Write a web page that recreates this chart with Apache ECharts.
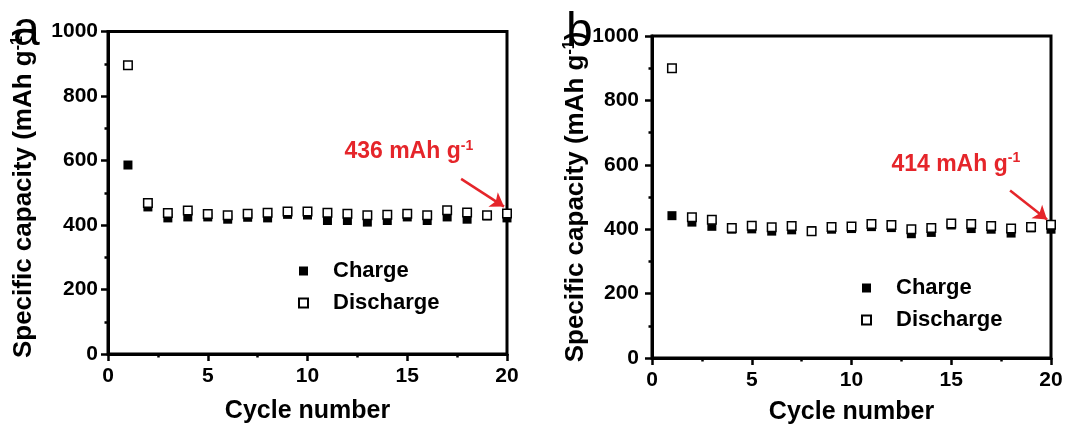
<!DOCTYPE html>
<html><head><meta charset="utf-8">
<script src="https://cdn.jsdelivr.net/npm/echarts@6/dist/echarts.min.js"></script>
<style>html,body{margin:0;padding:0;background:#fff}#c{width:1067px;height:426px}</style>
</head><body><div id="c"></div>
<script>
// ---- data ----
const cycles = [1,2,3,4,5,6,7,8,9,10,11,12,13,14,15,16,17,18,19,20];
const chargeA    = [586,456,422,425,425,418,424,422,433,431,414,414,409,414,425,414,425,418,428,422];
const dischargeA = [895,468,437,445,434,430,435,438,442,442,438,435,430,432,435,430,446,439,430,436];
const chargeB    = [442,422,409,400,401,394,398,396,400,402,408,405,386,390,413,402,400,388,404,400];
const dischargeB = [900,437,429,404,411,406,410,394,407,408,416,413,400,404,418,416,410,402,407,414];
const seriesNames = ['Charge','Discharge'];
const panelLetters = ['a','b'];
const annotTexts = ['436 mAh g','414 mAh g'];
const xTitle = 'Cycle number';
const yTitle = 'Specific capacity (mAh g';
const superscript = '-1';
// annotation anchors in data units [x, y]
const annotTextAt = [[11.85, 626], [12.0, 601]];
const annotArrow = [[[17.7, 543], [19.85, 457]], [[17.95, 520], [19.8, 430]]];

const FF = '"Liberation Sans", Arial, sans-serif';
const RED = '#e5252a';
const grids = [
  {left:108, right:560, top:31.5, bottom:72},
  {left:652, right:16, top:36, bottom:68}
];
function xAxis(i, gap){
  return {gridIndex:i, type:'value', min:0, max:20, interval:5,
    name:xTitle, nameLocation:'middle', nameGap:gap,
    nameTextStyle:{fontSize:25, fontWeight:'bold', color:'#000', fontFamily:FF},
    axisLine:{lineStyle:{color:'#000', width:3}},
    axisTick:{show:true, inside:false, length:7, lineStyle:{color:'#000', width:2.5}},
    minorTick:{show:true, splitNumber:2, length:3.5, lineStyle:{color:'#000', width:2.5}},
    splitLine:{show:false},
    axisLabel:{fontSize:21, fontWeight:'bold', color:'#000', fontFamily:FF, margin:12, formatter:v=>String(v)}
  };
}
function yAxis(i, gap, margin){
  return {gridIndex:i, type:'value', min:0, max:1000, interval:200,
    name:yTitle + '{s|' + superscript + '})', nameLocation:'middle', nameGap:gap, nameRotate:90,
    nameTextStyle:{fontSize:26, fontWeight:'bold', color:'#000', fontFamily:FF,
      rich:{s:{fontSize:16, fontWeight:'bold', color:'#000', fontFamily:FF, verticalAlign:'top', lineHeight:27}}},
    axisLine:{lineStyle:{color:'#000', width:3}},
    axisTick:{show:true, inside:false, length:7, lineStyle:{color:'#000', width:2.5}},
    minorTick:{show:true, splitNumber:2, length:3.5, lineStyle:{color:'#000', width:2.5}},
    splitLine:{show:false},
    axisLabel:{fontSize:21, fontWeight:'bold', color:'#000', fontFamily:FF, margin:margin, formatter:v=>String(v)}
  };
}
function pairs(vals){ return cycles.map((c,k)=>[c, vals[k]]); }
function chargeSeries(i, vals){
  return {name:seriesNames[0], type:'scatter', xAxisIndex:i, yAxisIndex:i,
    symbol:'rect', symbolSize:9, itemStyle:{color:'#000', opacity:1}, data:pairs(vals), z:2};
}
function dischargeSeries(i, vals){
  return {name:seriesNames[1], type:'scatter', xAxisIndex:i, yAxisIndex:i,
    symbol:'rect', symbolSize:8.5, itemStyle:{color:'#fff', borderColor:'#000', borderWidth:1.5, opacity:1},
    data:pairs(vals), z:3,
    markLine:{silent:true, symbol:['none','arrow'], symbolSize:13,
      lineStyle:{color:RED, width:2.5, type:'solid'}, label:{show:false},
      data:[[{coord:annotArrow[i][0]},{coord:annotArrow[i][1]}]]},
    markPoint:{silent:true, symbol:'rect', symbolSize:0,
      data:[{coord:annotTextAt[i]}],
      label:{show:true, position:[0,0], align:'left', verticalAlign:'middle',
        formatter:'{m|' + annotTexts[i] + '}{s|' + superscript + '}',
        rich:{m:{fontSize:23, fontWeight:'bold', color:RED, fontFamily:FF, lineHeight:26},
              s:{fontSize:14, fontWeight:'bold', color:RED, fontFamily:FF, verticalAlign:'top', lineHeight:26}}}}
  };
}
function legend(left, top){
  return {left:left, top:top, orient:'vertical', padding:0, itemGap:10,
    itemWidth:9, itemHeight:9, icon:'rect', selectedMode:false,
    data:seriesNames,
    textStyle:{fontSize:22, fontWeight:'bold', color:'#000', fontFamily:FF, lineHeight:22, padding:[0,0,0,20]}};
}
const chart = echarts.init(document.getElementById('c'), null, {renderer:'canvas'});
chart.setOption({
  animation:false,
  backgroundColor:'#fff',
  title:[
    {text:panelLetters[0], left:13, top:8, padding:0, textStyle:{fontSize:48, fontWeight:'normal', color:'#000', fontFamily:FF}},
    {text:panelLetters[1], left:566, top:9, padding:0, textStyle:{fontSize:48, fontWeight:'normal', color:'#000', fontFamily:FF}}
  ],
  grid:grids.map(g=>Object.assign({show:true, borderColor:'#000', borderWidth:3, backgroundColor:'transparent',
    containLabel:false, outerBoundsMode:'none'}, g)),
  legend:[legend(298,260), legend(861,277)],
  xAxis:[xAxis(0, 45), xAxis(1, 42)],
  yAxis:[yAxis(0, 71, 10), yAxis(1, 59, 13)],
  series:[chargeSeries(0, chargeA), dischargeSeries(0, dischargeA), chargeSeries(1, chargeB), dischargeSeries(1, dischargeB)]
});
</script></body></html>
